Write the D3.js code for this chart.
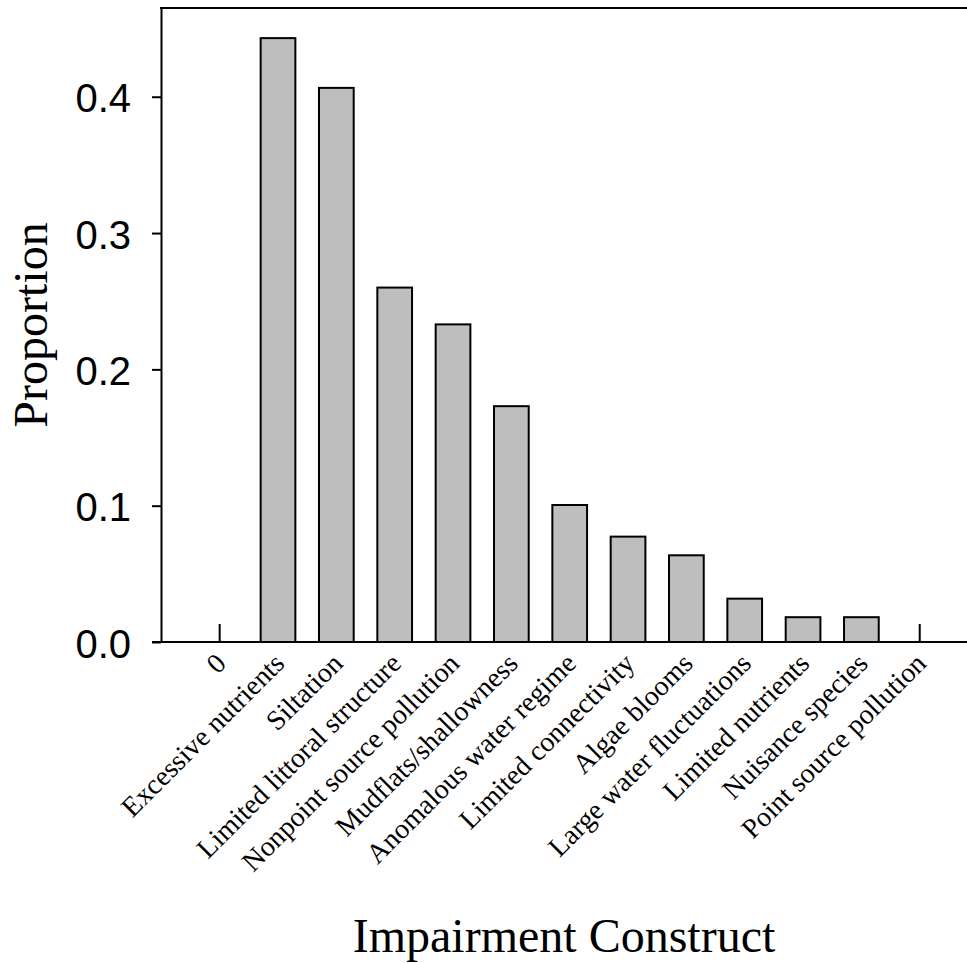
<!DOCTYPE html>
<html>
<head>
<meta charset="utf-8">
<script src="https://cdn.jsdelivr.net/npm/d3@7"></script>
<style>
  body { margin: 0; background: #fff; }
  .axis text { font-family: "Liberation Sans", Arial, sans-serif; font-size: 40px; fill: #000; }
  .cat { font-family: "Liberation Serif", "Times New Roman", serif; font-size: 28px; }
  .title { font-family: "Liberation Serif", "Times New Roman", serif; font-size: 48px; }
</style>
</head>
<body>
<div class="chart"></div>
<script>
// data
var categories = ["0", "Excessive nutrients", "Siltation", "Limited littoral structure",
  "Nonpoint source pollution", "Mudflats/shallowness", "Anomalous water regime",
  "Limited connectivity", "Algae blooms", "Large water fluctuations",
  "Limited nutrients", "Nuisance species", "Point source pollution"];
var proportions = [0, 0.443, 0.4065, 0.260, 0.233, 0.173, 0.1005, 0.0773, 0.0636, 0.0318, 0.0182, 0.0182, 0];
var yTicks = [0, 0.1, 0.2, 0.3, 0.4];

var svgWidth = 967;
var svgHeight = 963;

var svg = d3.select(".chart")
  .append("svg")
  .attr("width", svgWidth)
  .attr("height", svgHeight);

// plot box edges
var plotLeft = 161, plotTop = 8, plotBottom = 642, plotRight = 967;

// scales
var x = d3.scaleBand()
  .domain(categories)
  .range([190.5, 948.9])
  .paddingInner(0.405)
  .paddingOuter(0.2025);

var y = d3.scaleLinear()
  .domain([0, 0.4651])
  .range([plotBottom, plotTop]);

var data = categories.map(function (c, i) { return { cat: c, value: proportions[i] }; });

// bars
svg.selectAll("rect.bar")
  .data(data.filter(d => d.value > 0))
  .enter()
  .append("rect")
  .attr("class", "bar")
  .attr("x", d => x(d.cat))
  .attr("y", d => y(d.value))
  .attr("width", x.bandwidth())
  .attr("height", d => y(0) - y(d.value))
  .attr("fill", "#bebebe")
  .attr("stroke", "#000")
  .attr("stroke-width", 2);

// zero categories drawn as small marks
svg.selectAll("line.zero")
  .data(data.filter(d => d.value === 0))
  .enter()
  .append("line")
  .attr("class", "zero")
  .attr("x1", d => x(d.cat) + x.bandwidth() / 2)
  .attr("x2", d => x(d.cat) + x.bandwidth() / 2)
  .attr("y1", y(0))
  .attr("y2", y(0) - 18)
  .attr("stroke", "#000")
  .attr("stroke-width", 2);

// y axis
var leftAxis = d3.axisLeft(y)
  .tickValues(yTicks)
  .tickFormat(d3.format(".1f"))
  .tickSize(9)
  .tickSizeOuter(0)
  .tickPadding(21);

var yg = svg.append("g")
  .attr("class", "axis")
  .attr("transform", `translate(${plotLeft},0)`)
  .call(leftAxis);
yg.selectAll("path, line").attr("stroke", "#000").attr("stroke-width", 2);
yg.selectAll("text").attr("dy", "0.375em");
yg.attr("font-size", null).attr("font-family", null);

// frame lines (top and bottom)
svg.append("line")
  .attr("x1", plotLeft - 1).attr("x2", plotRight)
  .attr("y1", plotTop).attr("y2", plotTop)
  .attr("stroke", "#000").attr("stroke-width", 2);
svg.append("line")
  .attr("x1", plotLeft - 9).attr("x2", plotRight)
  .attr("y1", plotBottom).attr("y2", plotBottom)
  .attr("stroke", "#000").attr("stroke-width", 2);

// category labels, rotated
svg.selectAll("text.cat")
  .data(categories)
  .enter()
  .append("text")
  .attr("class", "cat")
  .attr("text-anchor", "end")
  .attr("transform", d => `translate(${x(d) + x.bandwidth() / 2 + 8}, ${plotBottom + 23}) rotate(-45)`)
  .text(d => d);

// axis titles
svg.append("text")
  .attr("class", "title")
  .attr("text-anchor", "middle")
  .attr("transform", `translate(46.5, ${(plotTop + plotBottom) / 2}) rotate(-90)`)
  .text("Proportion");

svg.append("text")
  .attr("class", "title")
  .attr("text-anchor", "middle")
  .attr("x", (plotLeft + plotRight) / 2)
  .attr("y", 951.5)
  .text("Impairment Construct");
</script>
</body>
</html>
